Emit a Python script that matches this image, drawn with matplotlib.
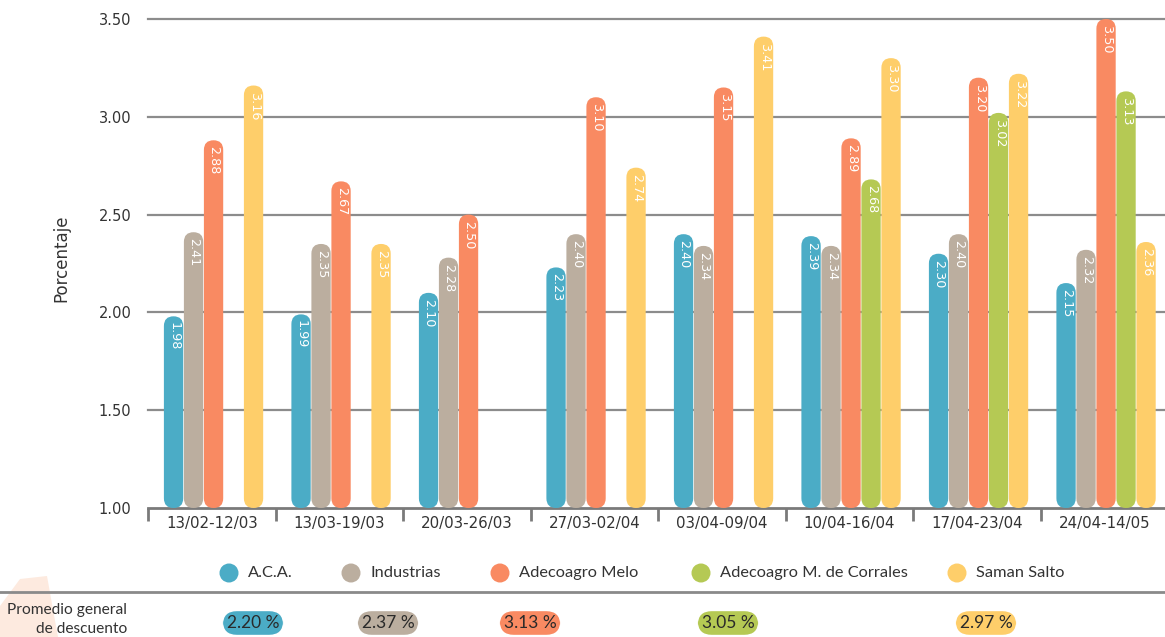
import numpy as np
import matplotlib
matplotlib.use("Agg")
import matplotlib.pyplot as plt
from matplotlib.patches import FancyBboxPatch, Ellipse, Polygon
from matplotlib.lines import Line2D

# ---------------- data ----------------
categories = ["13/02-12/03", "13/03-19/03", "20/03-26/03", "27/03-02/04",
              "03/04-09/04", "10/04-16/04", "17/04-23/04", "24/04-14/05"]
series_names = ["A.C.A.", "Industrias", "Adecoagro Melo",
                "Adecoagro M. de Corrales", "Saman Salto"]
aca = [1.98, 1.99, 2.10, 2.23, 2.40, 2.39, 2.30, 2.15]
industrias = [2.41, 2.35, 2.28, 2.40, 2.34, 2.34, 2.40, 2.32]
melo = [2.88, 2.67, 2.50, 3.10, 3.15, 2.89, 3.20, 3.50]
corrales = [None, None, None, None, None, 2.68, 3.02, 3.13]
saman = [3.16, 2.35, None, 2.74, 3.41, 3.30, 3.22, 2.36]
promedios = [2.20, 2.37, 3.13, 3.05, 2.97]
y_ticks = [1.00, 1.50, 2.00, 2.50, 3.00, 3.50]

series = [aca, industrias, melo, corrales, saman]
colors = ["#4BACC6", "#BBAE9F", "#F98A62", "#B5C954", "#FECE6A"]

# ---------------- figure ----------------
W, H = 1165, 637
fig = plt.figure(figsize=(W / 100, H / 100), dpi=100)
FONT = ["DejaVu Sans"]
FONT2 = ["Lato", "DejaVu Sans"]

def fx(px):
    return px / W

def fy(py):  # py measured from the top
    return 1 - py / H

# decorative peach shape bottom-left
fig.patches.append(Polygon([[fx(0), fy(606)], [fx(20), fy(579)], [fx(47), fy(576)],
                            [fx(54), fy(615)], [fx(58), fy(637)], [fx(0), fy(637)]],
                           closed=True, transform=fig.transFigure,
                           facecolor="#FDEADF", edgecolor="none", zorder=0))

ymin, ymax = 1.0, 3.55
y0_px, y35_px = 508, 19
px_per_unit = (y0_px - y35_px) / 2.5
top_px = y0_px - (ymax - ymin) * px_per_unit
left_px = 148
grp_px = 127.5
right_px = left_px + 8 * grp_px
ax = fig.add_axes([fx(left_px), fy(y0_px), (right_px - left_px) / W, (y0_px - top_px) / H])
ax.set_xlim(0, 8)
ax.set_ylim(ymin, ymax)

for s in ["top", "right", "left"]:
    ax.spines[s].set_visible(False)
ax.spines["bottom"].set_color("#7a7a7a")
ax.spines["bottom"].set_linewidth(2)

ax.set_yticks(y_ticks)
ax.set_yticklabels([f"{v:.2f}" for v in y_ticks], fontfamily=FONT, fontsize=10.5, color="#333333")
ax.tick_params(axis="y", length=0, pad=12)
for v in y_ticks[1:]:
    ax.axhline(v, color="#8c8c8c", lw=1.6, zorder=1, clip_on=False)

# group separators as major ticks, labels at minor ticks
ax.set_xticks(np.arange(0, 9))
ax.set_xticklabels([])
ax.tick_params(axis="x", which="major", length=9, width=2, color="#7a7a7a", direction="out")
ax.set_xticks(np.arange(8) + 0.5, minor=True)
ax.set_xticklabels(categories, minor=True, fontfamily=FONT, fontsize=10.8, color="#333333")
ax.tick_params(axis="x", which="minor", length=0, pad=6)

ax.set_ylabel("Porcentaje", fontfamily=FONT, fontsize=12, color="#333333", labelpad=20)

step = 20 / grp_px
width = 19.3 / grp_px
shift = 1.8 / grp_px
x = np.arange(8) + 0.5

ax_w_px = right_px - left_px
ax_h_px = y0_px - top_px
x_per_px = 8 / ax_w_px
y_per_px = (ymax - ymin) / ax_h_px
aspect = y_per_px / x_per_px

for k, (vals, col) in enumerate(zip(series, colors)):
    xs, hs = [], []
    for i, v in enumerate(vals):
        if v is not None:
            xs.append(x[i] + (k - 2) * step + shift)
            hs.append(v - ymin)
    bars = ax.bar(xs, hs, width=width, bottom=ymin, color=col)
    for b, h in zip(bars, hs):
        b.set_visible(False)
        bx, by, bw, bh = b.get_x(), b.get_y(), b.get_width(), b.get_height()
        patch = FancyBboxPatch((bx, by), bw, bh,
                               boxstyle=f"round,pad=0,rounding_size={bw/2}",
                               mutation_aspect=aspect,
                               facecolor=col, edgecolor="none", zorder=3, clip_on=False)
        ax.add_patch(patch)
        val = by + bh
        ax.text(bx + bw / 2 + 0.5 * x_per_px, val - 6 * y_per_px, f"{val:.2f}", rotation=270,
                ha="center", va="top", color="white", fontfamily=FONT,
                fontsize=9.2, zorder=4)

# ---------------- legend row ----------------
leg_y = 573
circle_x = [229, 351, 500, 701, 957]
r = 9.5
for cx, col, name in zip(circle_x, colors, series_names):
    fig.patches.append(Ellipse((fx(cx), fy(leg_y)), 2 * r / W, 2 * r / H,
                               transform=fig.transFigure, facecolor=col, edgecolor="none"))
    fig.text(fx(cx + 19), fy(leg_y), name, ha="left", va="center",
             fontfamily=FONT2, fontsize=11.8, color="#333333")

fig.lines.append(Line2D([0, 1], [fy(592), fy(592)], transform=fig.transFigure,
                        color="#8a8a8a", lw=2))

fig.text(fx(127), fy(603), "Promedio general\nde descuento", ha="right", va="top",
         fontfamily=FONT2, fontsize=11.2, color="#333333", linespacing=1.45)

pill_cx = [253, 388, 530, 728, 986]
for cx, col, v in zip(pill_cx, colors, promedios):
    fig.text(fx(cx), fy(623), f"{v:.2f} %", ha="center", va="center",
             fontfamily=FONT2, fontsize=12.5, color="#2a2a2a",
             bbox=dict(boxstyle="round,pad=0.22,rounding_size=0.8", facecolor=col,
                       edgecolor="none"))

fig.savefig("out.png", dpi=100)
